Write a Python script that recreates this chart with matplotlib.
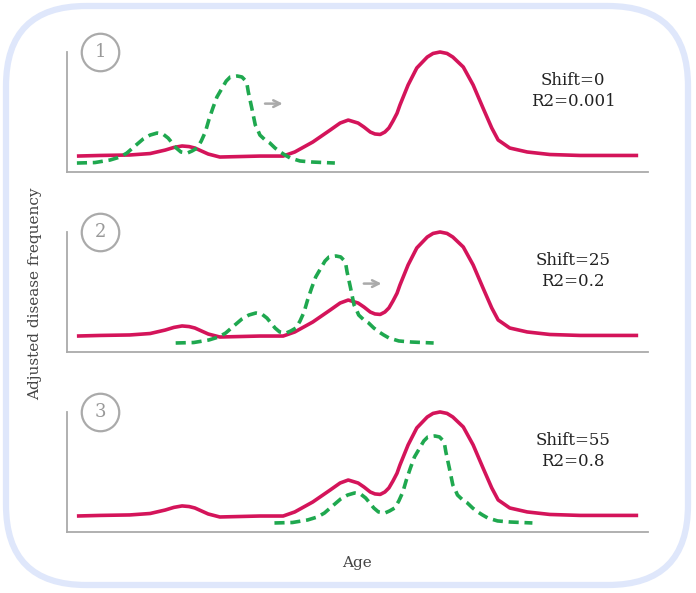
import matplotlib
matplotlib.use("Agg")
import matplotlib.pyplot as plt
from matplotlib.patches import FancyBboxPatch

# --- data (age in 0-100 units, frequency scaled to 0-1) ---
red_age = [1.7, 5.7, 10.8, 14.3, 16.9, 18.4, 19.8, 21.0, 22.0, 24.3, 26.3, 29.8, 33.2, 37.2,
           39.2, 42.3, 45.3, 47.0, 48.4, 50.1, 51.1, 52.2, 53.0, 53.9, 54.7, 55.4, 56.1,
           56.8, 57.3, 58.7, 60.2, 62.0, 63.0, 64.2, 65.4, 66.4, 68.2, 69.9, 71.6, 73.1,
           74.2, 76.2, 79.2, 83.1, 88.3, 93.5, 98.3]
red_freq = [0.133, 0.138, 0.142, 0.154, 0.183, 0.205, 0.217, 0.212, 0.20, 0.15, 0.125, 0.129,
            0.133, 0.133, 0.167, 0.25, 0.35, 0.408, 0.433, 0.408, 0.375, 0.333, 0.317, 0.313,
            0.333, 0.367, 0.425, 0.49, 0.558, 0.725, 0.867, 0.958, 0.988, 1.0, 0.988, 0.958,
            0.875, 0.725, 0.533, 0.367, 0.267, 0.20, 0.167, 0.146, 0.138, 0.138, 0.138]

green_age = [1.7, 4.8, 7.4, 9.1, 10.3, 11.7, 13.1, 14.3, 15.5, 16.5, 17.4, 18.1,
             18.8, 19.6, 20.7, 21.5, 22.4, 23.1, 23.8, 24.4, 25.1, 25.8, 26.7, 27.4,
             28.1, 29.3, 30.1, 30.6, 31.0, 31.2, 31.5, 31.8, 32.4, 32.9, 33.2, 34.1,
             34.9, 35.8, 36.7, 37.5, 38.4, 40.1, 42.3, 46.1]
green_freq = [0.075, 0.079, 0.10, 0.125, 0.158, 0.217, 0.275, 0.308, 0.325, 0.317, 0.283, 0.242,
              0.20, 0.167, 0.158, 0.175, 0.20, 0.258, 0.333, 0.433, 0.533, 0.625, 0.70, 0.758,
              0.792, 0.80, 0.792, 0.767, 0.725, 0.667, 0.60, 0.533, 0.392, 0.342, 0.308, 0.267,
              0.242, 0.20, 0.167, 0.142, 0.117, 0.092, 0.083, 0.075]

panel_ids = ["1", "2", "3"]
shift_values = [0, 25, 55]
r2_values = ["0.001", "0.2", "0.8"]
display_offset = [0, 17, 34]     # how far the dashed curve is drawn to the right
show_arrow = [True, True, False]

RED = "#d4145a"
GREEN = "#1fa84f"
GRAY = "#aaaaaa"

plt.rcParams["font.family"] = ["DejaVu Serif"]

fig = plt.figure(figsize=(6.96, 5.93), dpi=100)

# rounded light-blue frame
frame = FancyBboxPatch((0.06, 0.08), 6.82, 5.79,
                       boxstyle="round,pad=0,rounding_size=0.8",
                       transform=fig.dpi_scale_trans, fc="none",
                       ec="#dfe7fb", lw=4.5)
fig.patches.append(frame)

bottoms = [0.7099, 0.4064, 0.1029]
for i in range(3):
    ax = fig.add_axes([0.0963, bottoms[i], 0.8348, 0.2024])
    ax.set_xlim(0, 100)
    ax.set_ylim(0, 1)
    for s in ["top", "right"]:
        ax.spines[s].set_visible(False)
    for s in ["left", "bottom"]:
        ax.spines[s].set_color(GRAY)
        ax.spines[s].set_linewidth(1.3)
    ax.set_xticks([])
    ax.set_yticks([])
    ax.patch.set_alpha(0)

    ax.plot(red_age, red_freq, color=RED, lw=2.6, solid_capstyle="butt",
            solid_joinstyle="round", clip_on=False)
    ax.plot([a + display_offset[i] for a in green_age], green_freq, color=GREEN,
            lw=2.6, linestyle=(0, (2.8, 1.6)), clip_on=False)

    if show_arrow[i]:
        ax.annotate("", xy=(37.6 + display_offset[i], 0.57),
                    xytext=(33.6 + display_offset[i], 0.57),
                    arrowprops=dict(arrowstyle="->", color=GRAY, lw=1.8,
                                    mutation_scale=12))

    # circled panel number
    ax.plot([5.7], [1.0], marker="o", ms=27, mfc="white", mec=GRAY, mew=1.6,
            clip_on=False, zorder=5)
    ax.text(5.7, 1.0, panel_ids[i], ha="center", va="center", fontsize=13,
            color="#999999", zorder=6)

    ax.text(87.1, 0.675, f"Shift={shift_values[i]}\nR2={r2_values[i]}",
            ha="center", va="center", fontsize=12, color="#222222",
            linespacing=1.3)

fig.text(0.05, 0.505, "Adjusted disease frequency", rotation=90, ha="center",
         va="center", fontsize=11, color="#444444")
fig.text(0.513, 0.0506, "Age", ha="center", va="center", fontsize=11,
         color="#444444")

fig.savefig("out.png", dpi=100)
